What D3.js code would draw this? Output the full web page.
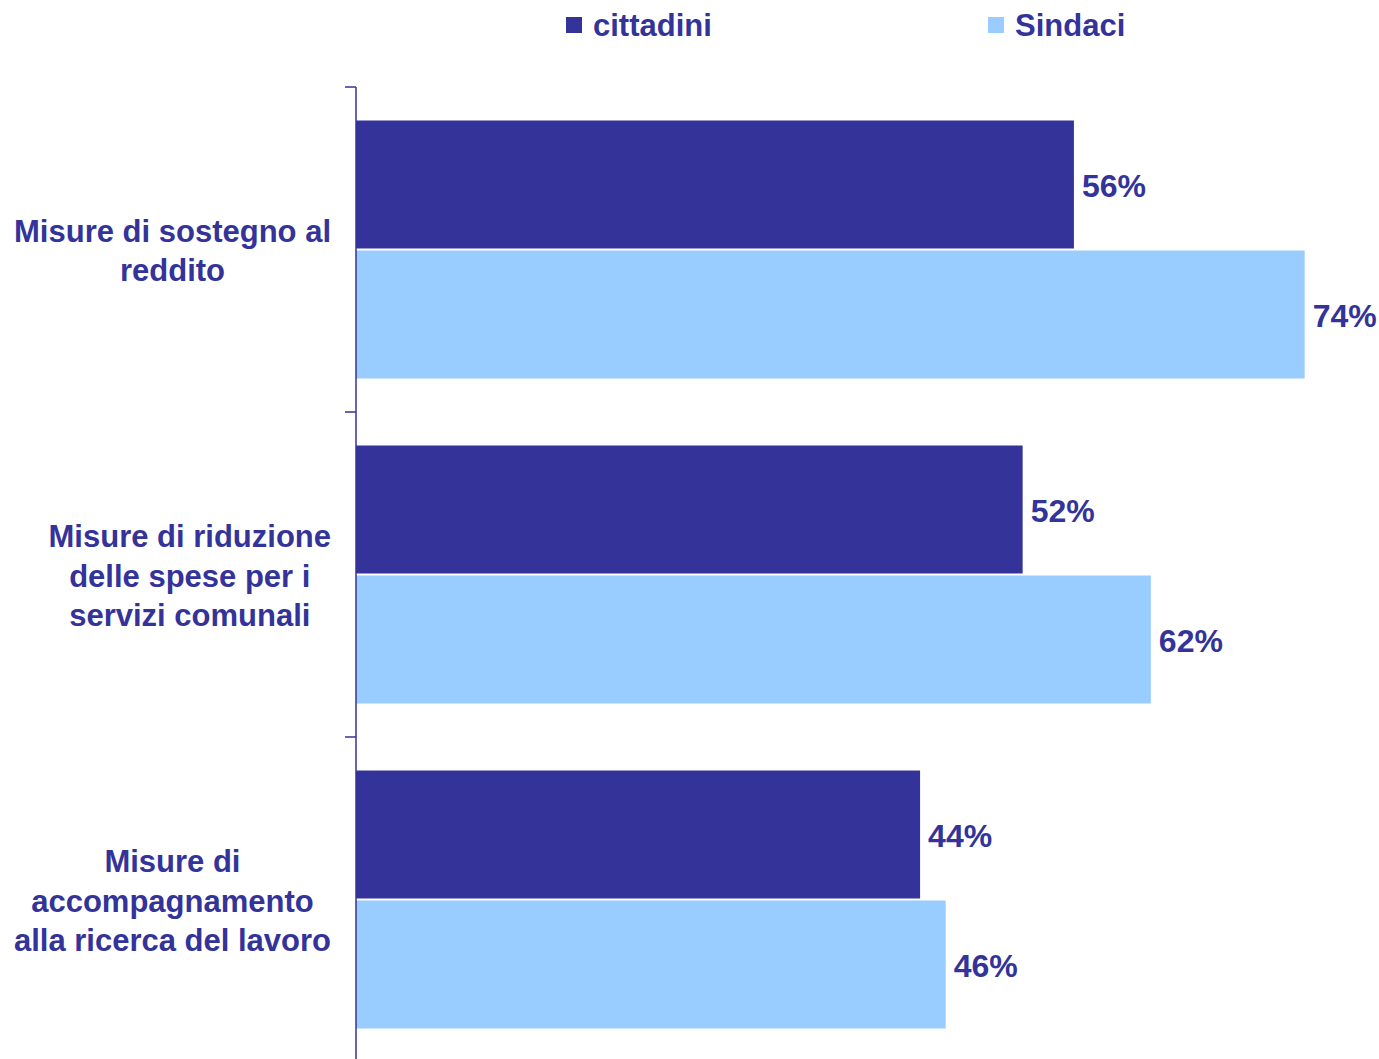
<!DOCTYPE html>
<html>
<head>
<meta charset="utf-8">
<script src="https://cdn.jsdelivr.net/npm/d3@7"></script>
<style>
  html, body { margin: 0; padding: 0; background: #fff; }
  svg { display: block; font-family: "Liberation Sans", Arial, sans-serif; font-weight: bold; }
</style>
</head>
<body>
<svg id="chart" width="1379" height="1059"></svg>
<script>
const categories = [
  ["Misure di sostegno al", "reddito"],
  ["Misure di riduzione", "delle spese per i", "servizi comunali"],
  ["Misure di", "accompagnamento", "alla ricerca del lavoro"],
];
const seriesNames = ["cittadini", "Sindaci"];
const cittadini = [56, 52, 44];
const sindaci = [74, 62, 46];

const colors = { cittadini: "#333399", Sindaci: "#99ccff" };
const textColor = "#333399";

const svg = d3.select("#chart");
const axisX = 356;
const fontSize = 31;
const valueFontSize = 32;

const x = d3.scaleLinear().domain([0, 80]).range([axisX, axisX + 80 * 12.82]);

const y0 = d3.scaleBand()
  .domain(d3.range(categories.length))
  .range([87, 87 + 325 * categories.length]);

const y1 = d3.scaleBand()
  .domain(seriesNames)
  .range([33.5, y0.bandwidth() - 33.5])
  .paddingInner(0.0155);

const rows = categories.map((lines, i) => ({
  lines,
  values: [
    { series: "cittadini", value: cittadini[i] },
    { series: "Sindaci", value: sindaci[i] },
  ],
}));

// bars
const group = svg.append("g")
  .selectAll("g")
  .data(rows)
  .join("g")
  .attr("transform", (_, i) => `translate(0,${y0(i)})`);

group.selectAll("rect")
  .data((row) => row.values)
  .join("rect")
  .attr("x", x(0))
  .attr("y", (d) => y1(d.series))
  .attr("width", (d) => x(d.value) - x(0))
  .attr("height", y1.bandwidth())
  .attr("fill", (d) => colors[d.series]);

group.selectAll("text.value")
  .data((row) => row.values)
  .join("text")
  .attr("class", "value")
  .attr("x", (d) => x(d.value) + 8)
  .attr("y", (d) => y1(d.series) + y1.bandwidth() / 2 + 1)
  .attr("dy", "0.36em")
  .attr("fill", textColor)
  .attr("font-size", valueFontSize)
  .text((d) => `${d.value}%`);

// axis
const tickValues = d3.range(categories.length + 1).map((i) => 87 + 325 * i);
svg.append("line")
  .attr("x1", axisX).attr("x2", axisX)
  .attr("y1", 87).attr("y2", 1059)
  .attr("stroke", textColor)
  .attr("stroke-width", 1.5);

svg.append("g")
  .selectAll("line")
  .data(tickValues)
  .join("line")
  .attr("x1", axisX - 11).attr("x2", axisX)
  .attr("y1", (d) => d).attr("y2", (d) => d)
  .attr("stroke", textColor)
  .attr("stroke-width", 1.5);

// category labels: lines centred inside a block whose right edge is fixed
const labelRight = 331;
const lineHeight = 39.5;
rows.forEach((row, i) => {
  const g = svg.append("g");
  const texts = g.selectAll("text")
    .data(row.lines)
    .join("text")
    .attr("font-size", fontSize)
    .attr("fill", textColor)
    .attr("text-anchor", "middle")
    .text((d) => d);

  const maxWidth = d3.max(texts.nodes(), (node) => node.getComputedTextLength());
  const centerX = labelRight - maxWidth / 2;
  const centerY = y0(i) + y0.bandwidth() / 2 + 1;
  const first = centerY - ((row.lines.length - 1) * lineHeight) / 2;

  texts
    .attr("x", centerX)
    .attr("y", (_, j) => first + j * lineHeight)
    .attr("dy", "0.36em");
});

// legend
const legendItems = [
  { name: "cittadini", x: 566 },
  { name: "Sindaci", x: 988 },
];
const legend = svg.append("g")
  .selectAll("g")
  .data(legendItems)
  .join("g")
  .attr("transform", (d) => `translate(${d.x},0)`);

legend.append("rect")
  .attr("x", 0).attr("y", 17)
  .attr("width", 16).attr("height", 16)
  .attr("fill", (d) => colors[d.name]);

legend.append("text")
  .attr("x", 27)
  .attr("y", 25)
  .attr("dy", "0.36em")
  .attr("font-size", fontSize)
  .attr("fill", textColor)
  .text((d) => d.name);
</script>
</body>
</html>
